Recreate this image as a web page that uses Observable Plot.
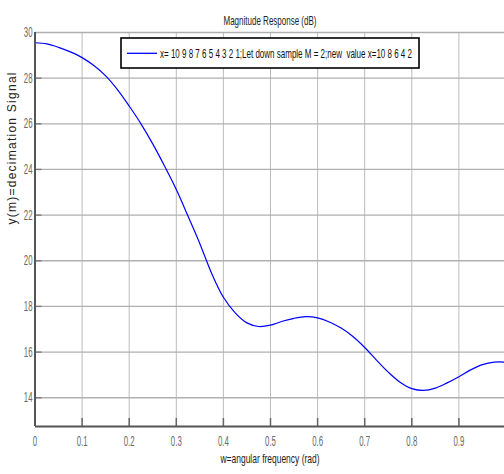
<!DOCTYPE html>
<html><head><meta charset="utf-8">
<script src="https://cdn.jsdelivr.net/npm/d3@7"></script>
<script src="https://cdn.jsdelivr.net/npm/@observablehq/plot@0.6"></script>
<style>
html,body{margin:0;padding:0;background:#fff;}
svg{font-family:"Liberation Sans",Arial,sans-serif;}
</style></head><body>
<div id="chart"></div>
<script>
const freq = [0,0.025,0.05,0.075,0.1,0.125,0.15,0.175,0.2,0.225,0.25,0.275,0.3,0.325,0.35,0.375,0.4,0.425,0.45,0.475,0.5,0.525,0.55,0.575,0.6,0.625,0.65,0.675,0.7,0.725,0.75,0.775,0.8,0.825,0.85,0.875,0.9,0.925,0.95,0.975,1.0];
const magDb = [29.55,29.50,29.35,29.15,28.90,28.55,28.10,27.50,26.78,26.00,25.12,24.15,23.12,21.95,20.75,19.45,18.40,17.72,17.28,17.12,17.18,17.35,17.48,17.55,17.50,17.32,17.05,16.68,16.20,15.65,15.12,14.68,14.40,14.32,14.42,14.65,14.92,15.22,15.45,15.56,15.56];
const xTicks = [0,0.1,0.2,0.3,0.4,0.5,0.6,0.7,0.8,0.9];
const xTickLabels = ["0","0.1","0.2","0.3","0.4","0.5","0.6","0.7","0.8","0.9"];
const yTicks = [14,16,18,20,22,24,26,28,30];
const titleText = "Magnitude Response (dB)";
const xLabel = "w=angular frequency (rad)";
const yLabel = "y(m)=decimation Signal";
const legendLabel = "x= 10 9 8 7 6 5 4 3 2 1;Let down sample M = 2;new  value x=10 8 6 4 2";

const data = freq.map((f,i)=>({w:f, db:magDb[i]}));
const yMin = 12.74, yMax = 30;

const chart = Plot.plot({
  width:504, height:474,
  marginTop:32, marginBottom:48, marginLeft:35, marginRight:0,
  style:{background:"#fff", fontFamily:"Liberation Sans, Arial, sans-serif"},
  x:{domain:[0,1], range:[34.5,505.5]},
  y:{domain:[yMin,yMax], range:[426,32]},
  marks:[
    Plot.ruleX(xTicks.slice(1), {stroke:"#bcbcbc", strokeWidth:1}),
    Plot.ruleY(yTicks, {stroke:"#b0b0b0", strokeWidth:1.3}),
    Plot.ruleX(xTicks.slice(1), {y1:yMin, y2:yMin+0.35, stroke:"#666", strokeWidth:1.5}),
    Plot.ruleY(yTicks.slice(0,-1), {x1:0, x2:0.015, stroke:"#777", strokeWidth:1.3}),
    Plot.line(data, {x:"w", y:"db", stroke:"#0000ff", strokeWidth:1.2, curve:"catmull-rom"}),
    Plot.axisX(xTicks, {tickSize:0, tickPadding:10, fontSize:14, color:"#6a6a6a", label:null,
      tickFormat:(d)=>xTickLabels[xTicks.indexOf(d)]}),
    Plot.axisY(yTicks, {tickSize:0, tickPadding:3, fontSize:14, color:"#6a6a6a", label:null}),
    Plot.ruleX([0], {stroke:"#555", strokeWidth:2}),
    Plot.ruleY([yMin], {stroke:"#555", strokeWidth:2}),
    Plot.text([titleText], {frameAnchor:"top", dy:-17, fontSize:13.5, fill:"#222"}),
    Plot.text([xLabel], {frameAnchor:"bottom", dy:36, fontSize:13.5, fill:"#222"}),
    Plot.text([yLabel], {frameAnchor:"left", dx:-23, dy:-5, rotate:-90, fontSize:12, fill:"#222"})
  ]
});
document.getElementById("chart").appendChild(chart);

const svg = d3.select(chart);
const lg = svg.append("g");
lg.append("rect").attr("x",121).attr("y",38).attr("width",298).attr("height",30)
  .style("fill","#fff").style("stroke","#000").attr("stroke-width",1.6);
lg.append("line").attr("x1",127).attr("x2",157).attr("y1",53.3).attr("y2",53.3)
  .style("stroke","#0000ff").attr("stroke-width",1.3);
lg.append("text").attr("x",160).attr("y",57.8).attr("font-size",13)
  .style("fill","#111").style("text-anchor","start")
  .text(legendLabel);

const targets = {};
targets[titleText] = 93;
targets[xLabel] = 99;
targets[yLabel] = 152;
targets[legendLabel] = 252;
svg.selectAll("text").each(function(){
  const t = this.textContent;
  const len = this.getComputedTextLength();
  let target = targets[t];
  if (target === undefined) target = len * 0.56;
  this.setAttribute("textLength", target);
  this.setAttribute("lengthAdjust", t === yLabel ? "spacing" : "spacingAndGlyphs");
});
</script>
</body></html>
